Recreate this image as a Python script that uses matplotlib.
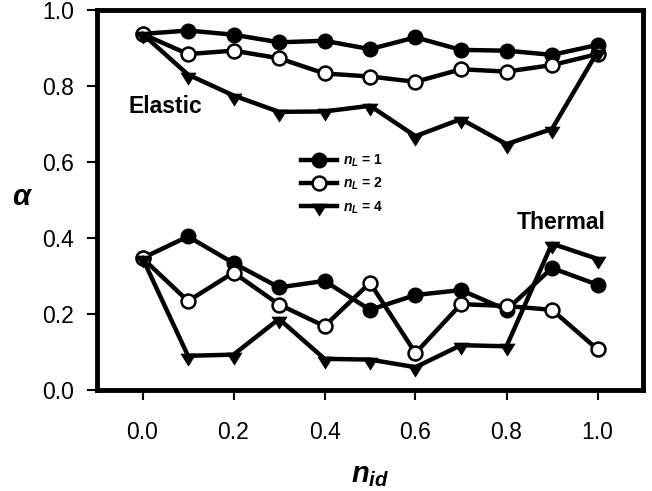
import matplotlib
matplotlib.use("Agg")
import matplotlib.pyplot as plt
from matplotlib.path import Path

plt.rcParams['font.family'] = ['Liberation Sans', 'DejaVu Sans']
plt.rcParams['mathtext.fontset'] = 'custom'
plt.rcParams['mathtext.it'] = 'Liberation Sans:bold:italic'
plt.rcParams['mathtext.rm'] = 'Liberation Sans:bold'
plt.rcParams['mathtext.bf'] = 'Liberation Sans:bold'

# ---- data ----
n_id = [0.0, 0.1, 0.2, 0.3, 0.4, 0.5, 0.6, 0.7, 0.8, 0.9, 1.0]
elastic_nL1 = [0.937, 0.946, 0.935, 0.915, 0.919, 0.897, 0.928, 0.895, 0.893, 0.882, 0.908]
elastic_nL2 = [0.937, 0.884, 0.893, 0.873, 0.833, 0.825, 0.811, 0.844, 0.838, 0.855, 0.884]
elastic_nL4 = [0.937, 0.830, 0.775, 0.732, 0.733, 0.748, 0.668, 0.713, 0.647, 0.687, 0.890]
thermal_nL1 = [0.347, 0.404, 0.334, 0.270, 0.287, 0.211, 0.250, 0.263, 0.211, 0.321, 0.277]
thermal_nL2 = [0.347, 0.234, 0.309, 0.225, 0.168, 0.282, 0.097, 0.226, 0.221, 0.211, 0.107]
thermal_nL4 = [0.347, 0.090, 0.093, 0.187, 0.082, 0.080, 0.060, 0.118, 0.115, 0.385, 0.345]
series_labels = [r'$n_L$ = 1', r'$n_L$ = 2', r'$n_L$ = 4']
xticks = [0.0, 0.2, 0.4, 0.6, 0.8, 1.0]
yticks = [0.0, 0.2, 0.4, 0.6, 0.8, 1.0]

# down-triangle hanging below the data point
tri = Path([(-1, 0.33), (1, 0.33), (0, -1.27), (-1, 0.33)],
           [Path.MOVETO, Path.LINETO, Path.LINETO, Path.CLOSEPOLY])

fig = plt.figure(figsize=(6.52, 4.91), dpi=100)
ax = fig.add_axes([97/652, 1-390/491, 546/652, 380/491])

lw = 3.2
st1 = dict(color='black', lw=lw, marker='o', ms=10, mfc='black', mec='black', mew=1.5)
st2 = dict(color='black', lw=lw, marker='o', ms=10, mfc='white', mec='black', mew=1.8)
st4 = dict(color='black', lw=lw, marker=tri, ms=13.7, mfc='black', mec='black', mew=0.5)

h1, = ax.plot(n_id, elastic_nL1, label=series_labels[0], **st1)
h2, = ax.plot(n_id, elastic_nL2, label=series_labels[1], **st2)
h4, = ax.plot(n_id, elastic_nL4, label=series_labels[2], **st4)
ax.plot(n_id, thermal_nL1, **st1)
ax.plot(n_id, thermal_nL2, **st2)
ax.plot(n_id, thermal_nL4, **st4)

ax.set_xlim(-0.1, 1.1)
ax.set_ylim(0.0, 1.0)
ax.set_xticks(xticks)
ax.set_yticks(yticks)
ax.set_xticklabels([f'{v:.1f}' for v in xticks])
ax.set_yticklabels([f'{v:.1f}' for v in yticks])

for s in ax.spines.values():
    s.set_linewidth(3.5)
ax.tick_params(axis='both', direction='out', length=7, width=1.5, labelsize=16.5)
ax.tick_params(axis='x', pad=15)
ax.tick_params(axis='y', pad=9.5)

ax.set_xlabel(r'$n_{id}$', fontsize=21)
ax.xaxis.set_label_coords(0.5, (390-482)/380)
ax.xaxis.label.set_va('baseline')
ax.set_ylabel(r'$\alpha$', fontsize=21, rotation=0)
ax.yaxis.set_label_coords((23-97)/546, (390-197)/380)
ax.yaxis.label.set_va('center')
ax.yaxis.label.set_ha('center')

ax.text(-0.03, 0.729, 'Elastic', fontsize=16.5, fontweight='bold', ha='left', va='baseline')
ax.text(1.0175, 0.424, 'Thermal', fontsize=16.5, fontweight='bold', ha='right', va='baseline')

leg = ax.legend(handles=[h1, h2, h4], loc='center left',
                bbox_to_anchor=((301-97)/546, (390-184)/380),
                frameon=False, borderpad=0, borderaxespad=0,
                handlelength=2.6, handletextpad=0.43, labelspacing=0.5,
                prop={'family': 'Liberation Sans', 'weight': 'bold', 'size': 10})

fig.savefig('out.png', dpi=100)
